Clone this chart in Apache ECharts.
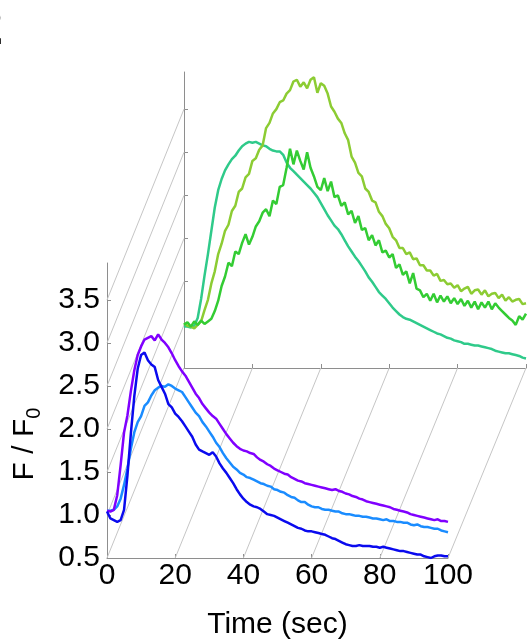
<!DOCTYPE html>
<html><head><meta charset="utf-8">
<script src="https://cdn.jsdelivr.net/npm/echarts@6/dist/echarts.min.js"></script>
<style>html,body{margin:0;padding:0;background:#fff}#c{width:527px;height:641px}</style>
</head><body><div id="c"></div>
<script>
const time = [0,1,2,3,4,5,6,7,8,9,10,11,12,13,14,15,16,17,18,19,20,21,22,23,24,25,26,27,28,29,30,31,32,33,34,35,36,37,38,39,40,41,42,43,44,45,46,47,48,49,50,51,52,53,54,55,56,57,58,59,60,61,62,63,64,65,66,67,68,69,70,71,72,73,74,75,76,77,78,79,80,81,82,83,84,85,86,87,88,89,90,91,92,93,94,95,96,97,98,99,100];

// front traces
const purple = [1.05,1.04,1.06,1.23,1.58,1.96,2.16,2.44,2.68,2.86,
 2.96,3.04,3.06,3.08,3.03,3.10,3.04,3.00,2.95,2.88,
 2.80,2.73,2.67,2.62,2.55,2.48,2.41,2.36,2.29,2.24,
 2.19,2.15,2.12,2.06,2.00,1.94,1.89,1.84,1.80,1.77,
 1.75,1.74,1.72,1.71,1.67,1.64,1.62,1.59,1.57,1.54,
 1.52,1.50,1.48,1.47,1.44,1.42,1.40,1.39,1.37,1.36,
 1.35,1.34,1.33,1.32,1.31,1.30,1.29,1.30,1.28,1.27,
 1.25,1.24,1.22,1.21,1.19,1.18,1.16,1.15,1.14,1.13,
 1.12,1.11,1.10,1.09,1.07,1.06,1.05,1.04,1.03,1.01,
 1.00,0.99,0.98,0.97,0.96,0.95,0.94,0.95,0.93,0.93,0.92];
const lightBlue = [1.05,1.05,1.06,1.10,1.19,1.35,1.54,1.77,1.96,2.08,
 2.15,2.27,2.31,2.39,2.45,2.48,2.50,2.49,2.52,2.50,
 2.47,2.45,2.43,2.37,2.31,2.25,2.19,2.15,2.08,2.03,
 1.97,1.91,1.84,1.79,1.72,1.66,1.61,1.56,1.53,1.49,
 1.47,1.44,1.43,1.41,1.39,1.37,1.36,1.34,1.33,1.30,
 1.29,1.27,1.26,1.23,1.21,1.20,1.17,1.15,1.15,1.12,
 1.10,1.09,1.09,1.07,1.06,1.06,1.05,1.04,1.04,1.02,
 1.01,1.01,1.00,0.99,0.99,0.98,0.98,0.97,0.96,0.96,
 0.95,0.94,0.95,0.93,0.93,0.92,0.92,0.91,0.91,0.89,
 0.88,0.89,0.87,0.86,0.86,0.85,0.84,0.84,0.82,0.81,0.80];
const darkBlue = [1.04,0.96,0.94,0.92,0.94,1.06,1.46,1.95,2.38,2.70,
 2.86,2.89,2.80,2.75,2.72,2.57,2.49,2.41,2.29,2.25,
 2.18,2.14,2.09,2.03,1.97,1.91,1.82,1.76,1.74,1.72,
 1.70,1.73,1.68,1.60,1.54,1.49,1.43,1.37,1.30,1.24,
 1.19,1.15,1.12,1.10,1.09,1.07,1.04,1.01,1.00,0.99,
 0.97,0.95,0.93,0.91,0.89,0.87,0.85,0.84,0.82,0.81,
 0.81,0.80,0.79,0.78,0.77,0.75,0.73,0.72,0.70,0.68,
 0.66,0.65,0.64,0.64,0.65,0.64,0.64,0.64,0.63,0.63,
 0.62,0.63,0.62,0.61,0.60,0.59,0.58,0.58,0.57,0.56,
 0.55,0.54,0.54,0.52,0.51,0.50,0.52,0.53,0.53,0.52,0.52];

// back traces
const teal = [0.98,0.98,0.97,0.99,1.08,1.30,1.57,1.82,2.09,2.36,
 2.56,2.69,2.79,2.86,2.92,2.96,3.02,3.07,3.10,3.12,
 3.11,3.12,3.10,3.08,3.07,3.04,3.02,3.01,3.01,2.97,
 2.88,2.82,2.78,2.74,2.70,2.66,2.62,2.58,2.53,2.48,
 2.41,2.34,2.27,2.21,2.15,2.11,2.05,1.98,1.91,1.85,
 1.79,1.74,1.68,1.62,1.55,1.50,1.44,1.38,1.34,1.30,
 1.25,1.20,1.16,1.12,1.09,1.07,1.06,1.04,1.02,1.00,
 0.98,0.96,0.94,0.92,0.90,0.89,0.87,0.85,0.84,0.82,
 0.81,0.80,0.78,0.78,0.77,0.76,0.76,0.75,0.74,0.73,
 0.72,0.70,0.69,0.68,0.67,0.67,0.66,0.65,0.64,0.62,0.61];
const yellowGreen = [1.02,0.99,0.98,0.96,1.00,1.04,1.17,1.29,1.48,1.62,
 1.82,1.94,2.09,2.16,2.32,2.38,2.54,2.58,2.71,2.75,
 2.90,2.93,3.03,3.08,3.28,3.34,3.45,3.50,3.58,3.60,
 3.68,3.72,3.82,3.84,3.76,3.81,3.74,3.84,3.87,3.69,
 3.80,3.77,3.68,3.53,3.47,3.39,3.34,3.22,3.14,2.95,
 2.88,2.76,2.72,2.58,2.54,2.44,2.42,2.31,2.26,2.17,
 2.12,2.02,1.98,1.89,1.89,1.82,1.84,1.76,1.77,1.69,
 1.69,1.63,1.63,1.57,1.59,1.51,1.52,1.47,1.48,1.43,
 1.46,1.39,1.42,1.44,1.36,1.40,1.41,1.35,1.40,1.33,
 1.36,1.37,1.31,1.35,1.28,1.32,1.27,1.29,1.30,1.24,1.25];
const green = [1.00,1.03,0.98,1.04,1.00,1.05,1.01,1.04,1.07,1.16,
 1.28,1.45,1.56,1.72,1.68,1.85,1.82,1.95,2.05,1.93,
 2.02,2.14,2.20,2.30,2.34,2.26,2.44,2.40,2.60,2.62,
 2.82,3.04,2.86,3.02,2.90,2.80,3.00,2.82,2.72,2.60,
 2.56,2.70,2.55,2.66,2.48,2.50,2.38,2.42,2.28,2.32,
 2.18,2.26,2.10,2.12,1.98,2.04,1.92,1.98,1.84,1.86,
 1.78,1.82,1.66,1.70,1.58,1.62,1.48,1.60,1.42,1.40,
 1.32,1.36,1.28,1.36,1.26,1.34,1.27,1.33,1.25,1.31,
 1.24,1.30,1.22,1.28,1.20,1.27,1.18,1.26,1.20,1.27,
 1.18,1.25,1.20,1.16,1.12,1.08,1.05,1.00,1.10,1.06,1.13];

const xTicks = [0,20,40,60,80,100];
const yTicks = [0.5,1.0,1.5,2.0,2.5,3.0,3.5];
const yMin = 0.5, yMax = 3.93;

const AX = '#8e8e8e', DIAG = '#c6c6c6';
const FONT = '"Liberation Sans", Arial, sans-serif';

function pairs(arr){ return time.map((t,i)=>[t, arr[i]]); }

const chart = echarts.init(document.getElementById('c'), null, {renderer:'canvas'});

function xAx(gi, front){
  return {gridIndex:gi, type:'value', min:0, max:100, interval:20,
    axisLine:{show:true, lineStyle:{color:AX, width:1}},
    axisTick:{show:true, inside:true, length:4, lineStyle:{color:AX}},
    splitLine:{show:false},
    axisLabel:{show:front, fontSize:30, color:'#000', margin:3, fontFamily:FONT},
    name: front ? 'Time (sec)' : '', nameLocation:'middle', nameGap:52,
    nameTextStyle:{fontSize:30, color:'#000', fontFamily:FONT}};
}
function yAx(gi, front){
  return {gridIndex:gi, type:'value', min:yMin, max:yMax, interval:0.5,
    axisLine:{show:true, lineStyle:{color:AX, width:1}},
    axisTick:{show:true, inside:true, length:4, lineStyle:{color:AX}, customValues:yTicks},
    splitLine:{show:false},
    axisLabel:{show:front, customValues:yTicks, formatter:v=>v.toFixed(1), fontSize:30, color:'#000', margin:7, fontFamily:FONT}};
}
function ser(name, arr, color, gi, z){
  return {name, type:'line', xAxisIndex:gi, yAxisIndex:gi, data:pairs(arr), showSymbol:false, symbol:'none',
    lineStyle:{color, width:2.5}, itemStyle:{color}, z, silent:true};
}

chart.setOption({
  animation:false,
  backgroundColor:'#fff',
  grid:[{left:107, top:263, width:341, height:297}, {left:184, top:72, width:342, height:296}],
  xAxis:[xAx(0,true), xAx(1,false)],
  yAxis:[yAx(0,true), yAx(1,false)],
  series:[
    ser('teal', teal, '#2fca8a', 1, 2),
    ser('yellowGreen', yellowGreen, '#8ccc33', 1, 2),
    ser('green', green, '#33cc33', 1, 2),
    ser('lightBlue', lightBlue, '#1a8cff', 0, 3),
    ser('purple', purple, '#8000ff', 0, 3),
    ser('darkBlue', darkBlue, '#0a0aee', 0, 3)
  ]
});

const g = [];
function diag(a, b){
  g.push({type:'line', silent:true, z:1, shape:{x1:a[0], y1:a[1], x2:b[0], y2:b[1]}, style:{stroke:DIAG, lineWidth:1}});
}
xTicks.forEach(t=>{
  diag(chart.convertToPixel({gridIndex:0},[t,yMin]), chart.convertToPixel({gridIndex:1},[t,yMin]));
});
yTicks.slice(1).forEach(v=>{
  diag(chart.convertToPixel({gridIndex:0},[0,v]), chart.convertToPixel({gridIndex:1},[0,v]));
});
g.push({type:'text', silent:true, x:25, y:444, rotation:Math.PI/2,
  style:{text:'{a|F / F}{b|0}', align:'center', verticalAlign:'middle', fill:'#000',
    rich:{a:{fontSize:30, fontFamily:FONT, lineHeight:38, fill:'#000'}, b:{fontSize:20, fontFamily:FONT, lineHeight:38, verticalAlign:'bottom', fill:'#000'}}}});
g.push({type:'text', silent:true, x:3, y:4, style:{text:'2', fontSize:52, fontWeight:'bold', fontFamily:FONT, align:'right', verticalAlign:'top', fill:'#000'}});
chart.setOption({graphic:g});
</script>
</body></html>
